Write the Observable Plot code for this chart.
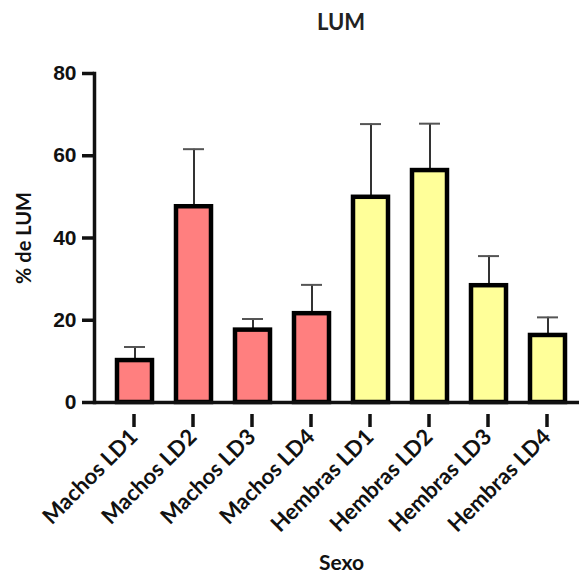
<!DOCTYPE html>
<html><head><meta charset="utf-8">
<script src="https://cdn.jsdelivr.net/npm/d3@7"></script>
<script src="https://cdn.jsdelivr.net/npm/@observablehq/plot@0.6"></script>
<style>
body{margin:0;background:#fff;}
#wrap{position:relative;width:579px;height:574px;}
#title{position:absolute;top:8px;left:341px;transform:translateX(-50%);font:bold 22px Lato;color:#222;white-space:nowrap;}
#wrap svg{position:absolute;left:0;top:0;}
</style></head><body>
<div id="wrap"><div id="title">LUM</div></div>
<script>
const categories = ["Machos LD1","Machos LD2","Machos LD3","Machos LD4","Hembras LD1","Hembras LD2","Hembras LD3","Hembras LD4"];
const groups = ["Machos","Machos","Machos","Machos","Hembras","Hembras","Hembras","Hembras"];
const means = [10.2, 47.6, 17.6, 21.6, 49.9, 56.4, 28.4, 16.3];
const sems = [3.3, 14.0, 2.7, 7.0, 17.8, 11.4, 7.2, 4.4];
const yTicks = [0, 20, 40, 60, 80];
const groupNames = ["Machos","Hembras"];
const groupColors = ["#FF7F7F","#FFFF99"];

const data = categories.map((c,i)=>({cat:c, group:groups[i], mean:means[i], top:means[i]+sems[i]}));

const chart = Plot.plot({
  width:579, height:574, marginTop:73, marginBottom:172, marginLeft:94, marginRight:0,
  style:{background:"transparent", overflow:"visible", color:"#111"},
  x:{domain:categories, range:[94,587.7], paddingInner:0.41, paddingOuter:0.368},
  y:{domain:[0,80]},
  color:{domain:groupNames, range:groupColors},
  marks:[
    Plot.ruleX(data,{x:"cat", y1:"mean", y2:"top", stroke:"#333", strokeWidth:2}),
    Plot.tickY(data,{x:"cat", y:"top", stroke:"#555", strokeWidth:2, insetLeft:7, insetRight:7}),
    Plot.barY(data,{x:"cat", y:"mean", fill:"group", stroke:"#000", strokeWidth:4.5}),
    Plot.axisY({ticks:yTicks, tickSize:12, tickPadding:6, strokeWidth:3.5, fontSize:21, fontWeight:"bold", fontFamily:"Liberation Sans", label:null}),
    Plot.axisX({tickSize:13, strokeWidth:3.5, tickRotate:-45, fontSize:22, fontFamily:"Lato", fontWeight:"bold", label:null, dy:12, dx:-1}),
    Plot.ruleY([0],{strokeWidth:3.5}),
    Plot.frame({anchor:"left", strokeWidth:3.5}),
    Plot.text(["% de LUM"],{text:d=>d, frameAnchor:"left", textAnchor:"middle", lineAnchor:"middle", dx:-70, rotate:-90, fontSize:20, fontWeight:"bold", fontFamily:"Lato"}),
    Plot.text(["Sexo"],{text:d=>d, frameAnchor:"bottom", textAnchor:"middle", lineAnchor:"bottom", dx:4.5, dy:167, fontSize:21, fontWeight:"bold", fontFamily:"Lato"})
  ]
});
document.getElementById("wrap").appendChild(chart);
</script>
</body></html>
